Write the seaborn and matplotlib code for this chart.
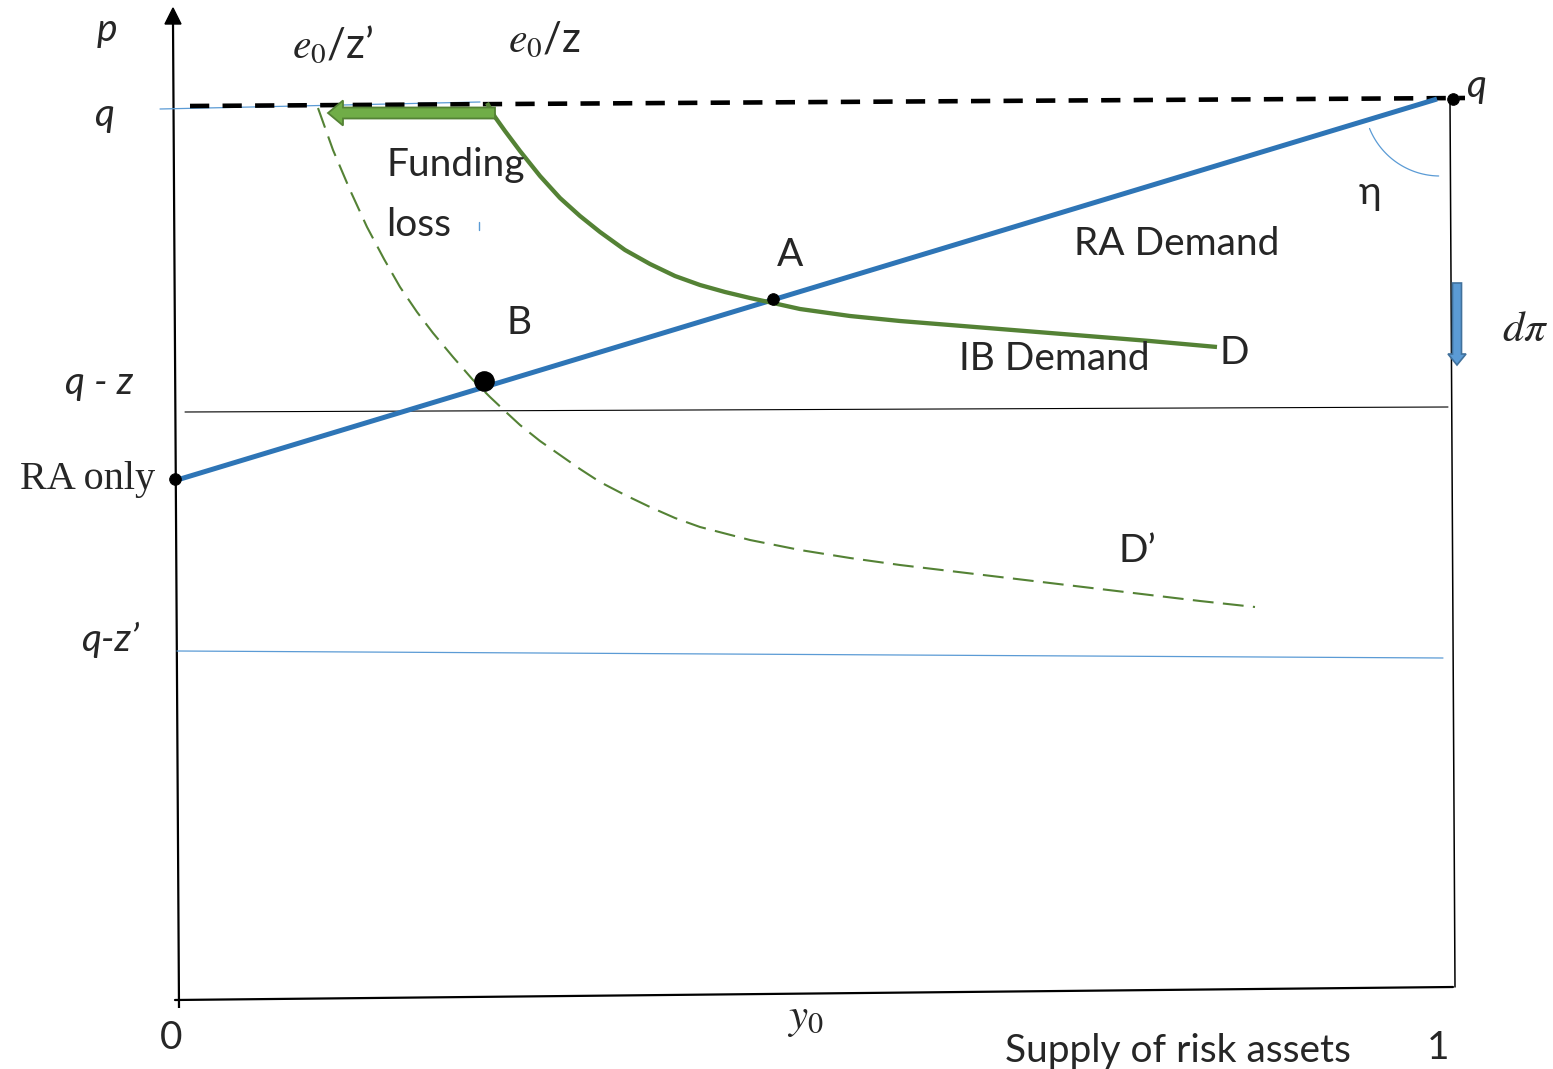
import numpy as np
import matplotlib
matplotlib.use("Agg")
import matplotlib.pyplot as plt
import seaborn as sns
from matplotlib.patches import FancyArrow

sns.set_theme(style="white")
plt.rcParams["font.family"] = ["Lato", "DejaVu Sans"]
plt.rcParams["mathtext.fontset"] = "stix"

# Diagram frame: horizontal = supply of risk assets, vertical = price (drawn top-down)
W, H = 1553, 1069

# RA demand (straight line from "RA only" price up to q at full supply)
ra_x = [177, 1437]
ra_y = [480, 99]

# IB demand curve D
ib_x = [487, 495, 505, 520, 540, 560, 580, 600, 625, 650, 675, 700, 725, 750, 773,
        800, 850, 900, 950, 1000, 1050, 1100, 1150, 1217]
ib_y = [103, 117, 131, 151, 176, 198, 216, 232, 250, 264, 276, 285, 292, 298, 303,
        309, 316, 321, 325, 329, 333, 337, 341, 347]

# Shifted IB demand D' after the funding loss
ibs_x = [318, 333, 350, 367, 384, 400, 417, 433, 453, 473, 490, 507, 520, 540, 560, 580,
         600, 625, 650, 675, 700, 750, 800, 850, 900, 950, 1000, 1050, 1100, 1150, 1200, 1255]
ibs_y = [108, 150, 190, 227, 259, 287, 312, 333, 357, 380, 397, 413, 425, 441, 455, 469,
         482, 495, 507, 518, 527, 540, 550, 558, 565, 571, 577, 583, 589, 595, 601, 607]

# Reference price levels
q_line_x, q_line_y = [190, 1465], [106, 98]
qz_x, qz_y = [185, 1448], [412, 407]
qz2_x, qz2_y = [177, 1443], [651, 658]

# Marked equilibrium points
pts_x = [175, 773, 1453]
pts_y = [479, 299, 99]
b_x, b_y = [484], [381]

fig = plt.figure(figsize=(W / 100, H / 100), dpi=100)
ax = fig.add_axes([0, 0, 1, 1])
ax.set_xlim(0, W)
ax.set_ylim(H, 0)
ax.axis("off")

black = "#000000"
blue = "#2E75B6"
green = "#548235"
thin_blue = "#5B9BD5"

# axes of the diagram
ax.plot([173, 179], [22, 1008], color=black, lw=1.6, solid_capstyle="butt")
ax.add_patch(FancyArrow(173, 24, 0, -16, width=0.1, head_width=16, head_length=16,
                        length_includes_head=True, color=black))
ax.plot([175, 1453], [1000, 987], color=black, lw=1.6)
ax.plot([1450, 1455], [100, 987], color=black, lw=1.1)

# price guides
ax.plot([160, 480], [109, 102], color=thin_blue, lw=0.9)
sns.lineplot(x=q_line_x, y=q_line_y, ax=ax, sort=False, estimator=None, color=black,
             linewidth=3.3, linestyle=(0, (4.2, 2.9)))
ax.plot(qz_x, qz_y, color=black, lw=0.8)
ax.plot(qz2_x, qz2_y, color=thin_blue, lw=0.9)

# demand curves
sns.lineplot(x=ibs_x, y=ibs_y, ax=ax, sort=False, estimator=None, color=green,
             linewidth=1.5, linestyle=(0, (10, 4.5)))
sns.lineplot(x=ra_x, y=ra_y, ax=ax, sort=False, estimator=None, color=blue,
             linewidth=3.6, solid_capstyle="butt")
sns.lineplot(x=ib_x, y=ib_y, ax=ax, sort=False, estimator=None, color=green,
             linewidth=3.1, solid_capstyle="butt")

# funding-loss shift arrow
ax.add_patch(FancyArrow(495, 113, -167, 0, width=11, head_width=25, head_length=15,
                        length_includes_head=True, fc="#70AD47", ec=green, lw=1.3, zorder=4))
# d pi arrow
ax.add_patch(FancyArrow(1457, 283, 0, 82, width=9, head_width=18, head_length=11,
                        length_includes_head=True, fc=thin_blue, ec="#41719C", lw=1.2, zorder=4))

# eta angle arc
th = np.linspace(np.deg2rad(91), np.deg2rad(158), 40)
ax.plot(1440 + 76 * np.cos(th), 100 + 76 * np.sin(th), color=thin_blue, lw=0.9)

# small stray tick near the label
ax.plot([479, 479], [222, 230], color=thin_blue, lw=1.0)

sns.scatterplot(x=pts_x, y=pts_y, ax=ax, color=black, s=70, edgecolor=black, zorder=6)
sns.scatterplot(x=b_x, y=b_y, ax=ax, color=black, s=190, edgecolor=black, zorder=6)

fs = 28
it = dict(style="italic", fontsize=fs, ha="center", va="center")
ax.text(107, 30, "p", **it)
ax.text(104, 115, "q", **it)
ax.text(1476, 86, "q", **it)
ax.text(99, 383, "q - z", **it)
ax.text(110, 640, "q-z\u2019", **it)
ax.text(1525, 329, r"$d\pi$", fontsize=31, ha="center", va="center")

ax.text(333, 45, "$e_0$/z\u2019", fontsize=30, ha="center", va="center")
ax.text(545, 40, "$e_0$/z", fontsize=30, ha="center", va="center")
ax.text(805, 1020, "$y_0$", fontsize=31, ha="center", va="center")

ax.text(386, 165, "Funding", fontsize=fs, ha="left", va="center")
ax.text(386, 225, "loss", fontsize=fs, ha="left", va="center")
ax.text(790, 255, "A", fontsize=fs, ha="center", va="center")
ax.text(519, 323, "B", fontsize=fs, ha="center", va="center")
ax.text(1177, 244, "RA Demand", fontsize=fs, ha="center", va="center")
ax.text(1054, 359, "IB Demand", fontsize=fs, ha="center", va="center")
ax.text(1234, 353, "D", fontsize=fs, ha="center", va="center")
ax.text(1137, 551, "D\u2019", fontsize=fs, ha="center", va="center")
ax.text(1370, 193, "\u03b7", fontsize=fs, ha="center", va="center")
ax.text(88, 479, "RA only", family=["Liberation Serif", "DejaVu Serif"], fontsize=29,
        ha="center", va="center")
ax.text(171, 1038, "0", fontsize=fs, ha="center", va="center")
ax.text(1178, 1051, "Supply of risk assets", fontsize=fs, ha="center", va="center")
ax.text(1438, 1048, "1", fontsize=fs, ha="center", va="center")

fig.savefig("out.png", dpi=100)
